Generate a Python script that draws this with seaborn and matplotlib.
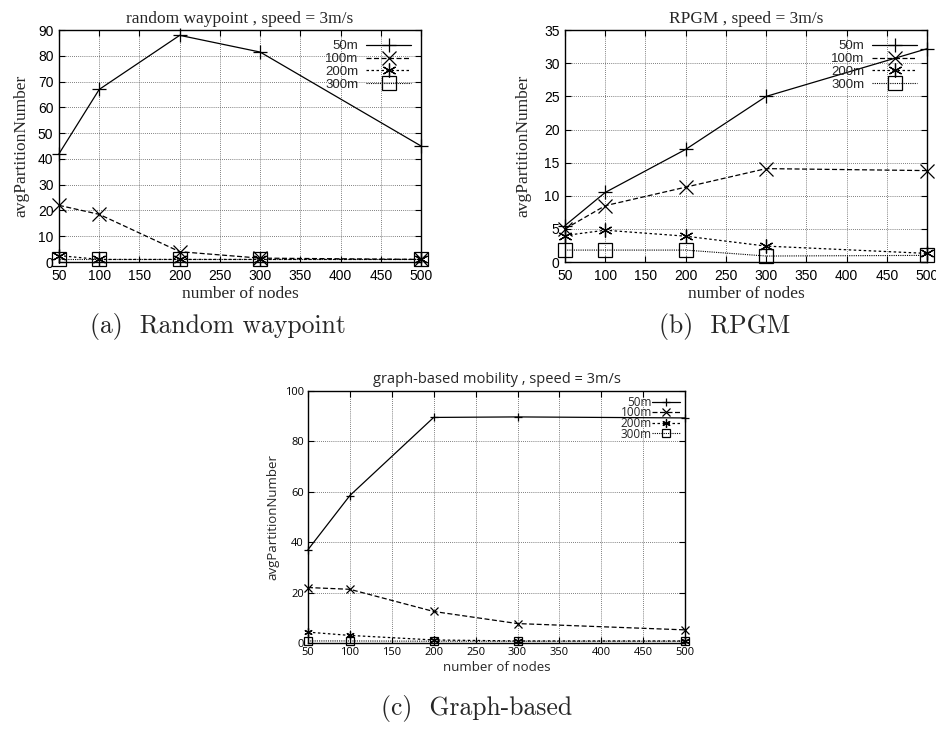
import numpy as np
import pandas as pd
import matplotlib
matplotlib.use("Agg")
import matplotlib.pyplot as plt
import seaborn as sns

# ---- data -------------------------------------------------------------
nodes = [50, 100, 200, 300, 500]
ranges = ["50m", "100m", "200m", "300m"]

rwp_50 = [42, 67, 88, 81.5, 45]
rwp_100 = [22, 18.5, 4, 1.5, 1]
rwp_200 = [2.5, 1, 1, 1, 1]
rwp_300 = [1, 1, 1, 1, 1]

rpgm_50 = [5.5, 10.5, 17, 25, 32.2]
rpgm_100 = [5, 8.5, 11.3, 14.1, 13.8]
rpgm_200 = [4, 4.8, 3.9, 2.4, 1.3]
rpgm_300 = [1.8, 1.8, 1.8, 0.9, 1.0]

graph_50 = [37, 58.5, 89.5, 89.7, 89.3]
graph_100 = [22, 21.3, 12.5, 7.7, 5.2]
graph_200 = [4.3, 3.0, 1.2, 0.8, 0.8]
graph_300 = [0.8, 0.8, 0.7, 0.7, 0.7]

x_ticks = [50, 100, 150, 200, 250, 300, 350, 400, 450, 500]

sns.set_theme(style="white")
plt.rcParams["font.family"] = ["Liberation Sans", "DejaVu Sans"]
plt.rcParams["font.stretch"] = "normal"

styles = {
    "50m": dict(marker="+", linestyle="-", lw=0.9),
    "100m": dict(marker="x", linestyle=(0, (4, 2)), lw=0.9),
    "200m": dict(marker=(6, 2, 0), linestyle=(0, (2, 2)), lw=0.9),
    "300m": dict(marker="s", linestyle=(0, (1, 1)), lw=0.8),
}


def panel(ax, series, title, ymax, ystep, serif, msize, ylabpad):
    df = pd.DataFrame({"nodes": nodes * len(ranges),
                       "value": sum(series, []),
                       "range": np.repeat(ranges, len(nodes))})
    for name in ranges:
        sub = df[df["range"] == name]
        st = styles[name]
        sns.lineplot(data=sub, x="nodes", y="value", ax=ax, color="black",
                     marker=st["marker"], linestyle=st["linestyle"],
                     linewidth=st["lw"], markersize=msize,
                     markerfacecolor="none", markeredgecolor="black",
                     markeredgewidth=0.9, label=name, clip_on=False)
    ax.set_xlim(50, 500)
    ax.set_ylim(0, ymax)
    ax.set_xticks(x_ticks)
    ax.set_yticks(np.arange(0, ymax + 0.1, ystep))
    ax.grid(True, color="#555555", linestyle=(0, (1, 1.5)), linewidth=0.6)
    for s in ax.spines.values():
        s.set_color("black")
        s.set_linewidth(1.0)
    ax.tick_params(axis="both", direction="in", length=4, width=0.8,
                   colors="black", top=True, right=True, bottom=True,
                   left=True)
    if serif:
        ax.tick_params(axis="both", labelsize=10)
        ax.tick_params(axis="x", pad=5)
        ax.tick_params(axis="y", pad=4)
        lab_font = dict(family=["Liberation Serif"], size=12.5)
        ax.set_title(title, fontdict=dict(family=["Liberation Serif"],
                                          size=12.5), pad=5)
        ax.set_xlabel("number of nodes", fontdict=lab_font, labelpad=2)
        ax.set_ylabel("avgPartitionNumber", fontdict=lab_font,
                      labelpad=ylabpad)
        leg = ax.legend(loc="upper right", frameon=False, markerfirst=False,
                        fontsize=9.5, handlelength=3.4, handletextpad=0.6,
                        labelspacing=0.05, borderaxespad=0.35)
    else:
        lab_font = dict(family=["Open Sans"], size=9.5)
        ax.set_title(title, fontdict=dict(family=["Open Sans"], size=10.5),
                     pad=6)
        ax.tick_params(axis="both", labelsize=8, pad=3)
        for t in ax.get_xticklabels() + ax.get_yticklabels():
            t.set_family("Open Sans")
        ax.set_xlabel("number of nodes", fontdict=lab_font, labelpad=2)
        ax.set_ylabel("avgPartitionNumber", fontdict=lab_font,
                      labelpad=ylabpad)
        leg = ax.legend(loc="upper right", frameon=False, markerfirst=False,
                        prop=dict(family="Open Sans", size=8.5),
                        handlelength=2.4, handletextpad=0.0,
                        labelspacing=-0.2, borderaxespad=0.0)
    return leg


fig = plt.figure(figsize=(9.36, 7.29), dpi=100)
ax_a = fig.add_axes([0.063, 0.6406, 0.387, 0.318])
ax_b = fig.add_axes([0.6036, 0.6406, 0.3868, 0.318])
ax_c = fig.add_axes([0.329, 0.118, 0.403, 0.3457])

panel(ax_a, [rwp_50, rwp_100, rwp_200, rwp_300],
      "random waypoint , speed = 3m/s", 90, 10, True, 10, 6)
panel(ax_b, [rpgm_50, rpgm_100, rpgm_200, rpgm_300],
      "RPGM , speed = 3m/s", 35, 5, True, 10, 9)
panel(ax_c, [graph_50, graph_100, graph_200, graph_300],
      "graph-based mobility , speed = 3m/s", 100, 20, False, 6, 4)

cap_font = dict(family=["cmr10", "DejaVu Serif"], size=18.5)
fig.text(218 / 936, 1 - 326 / 729, "(a)  Random waypoint", ha="center",
         va="center", **cap_font)
fig.text(725 / 936, 1 - 326 / 729, "(b)  RPGM", ha="center", va="center",
         **cap_font)
fig.text(477 / 936, 1 - 709 / 729, "(c)  Graph-based", ha="center",
         va="center", **cap_font)

fig.savefig("out.png", dpi=100)
